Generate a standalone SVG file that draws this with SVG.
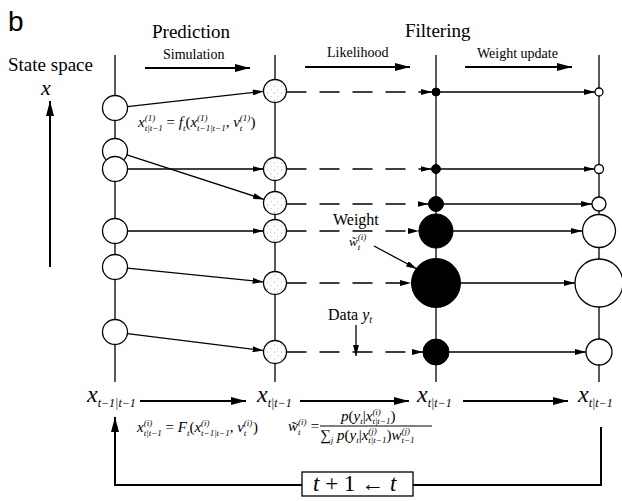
<svg xmlns="http://www.w3.org/2000/svg" width="622" height="501" viewBox="0 0 622 501">
<style>
.ln{stroke:#000;fill:none;stroke-width:1.3}
.th{stroke:#000;fill:none;stroke-width:2}
.dash{stroke:#000;fill:none;stroke-width:1.6;stroke-dasharray:20 13}
.t{font-family:"Liberation Serif","Times New Roman",serif;fill:#000}
.i{font-style:italic}
.open{fill:#fff;stroke:#000;stroke-width:1.3}
.dot{fill:url(#stip);stroke:#000;stroke-width:1.3}
.blk{fill:#000;stroke:#000;stroke-width:1}
.s{font-size:9px}
.u{font-style:normal}
</style>
<defs>
<marker id="ah" viewBox="0 0 11 6" refX="11" refY="3" markerWidth="11" markerHeight="6" markerUnits="userSpaceOnUse" orient="auto"><path d="M0,0L11,3L0,6z" fill="#000"/></marker>
<marker id="ahb" viewBox="0 0 15 8" refX="15" refY="4" markerWidth="15" markerHeight="8" markerUnits="userSpaceOnUse" orient="auto"><path d="M0,0L15,4L0,8z" fill="#000"/></marker>
<pattern id="stip" width="7" height="7" patternUnits="userSpaceOnUse"><rect width="7" height="7" fill="#fff"/><circle cx="1.5" cy="2" r="0.55" fill="#999"/><circle cx="5" cy="5.5" r="0.5" fill="#aaa"/><circle cx="4.5" cy="1" r="0.4" fill="#bbb"/></pattern>
</defs>
<rect width="622" height="501" fill="#fff"/>

<!-- titles -->
<text class="t" x="8" y="31" style="font-family:'Liberation Sans',Arial,sans-serif;font-size:28px">b</text>
<text class="t" x="152" y="38" font-size="19">Prediction</text>
<text class="t" x="405" y="37" font-size="19">Filtering</text>
<text class="t" x="163" y="59" font-size="14">Simulation</text>
<text class="t" x="327" y="57" font-size="14">Likelihood</text>
<text class="t" x="477" y="58" font-size="14">Weight update</text>
<text class="t" x="8" y="71" font-size="19">State space</text>
<text class="t i" x="41" y="95" font-size="22">x</text>

<g id="connectors">
  <!-- header arrows -->
  <line class="th" x1="145" y1="68" x2="250" y2="68" marker-end="url(#ahb)"/>
  <line class="th" x1="305" y1="67" x2="410" y2="67" marker-end="url(#ahb)"/>
  <line class="th" x1="465" y1="67" x2="572" y2="67" marker-end="url(#ahb)"/>
  <!-- state axis -->
  <line class="th" x1="50" y1="267" x2="50" y2="101" marker-end="url(#ahb)"/>
  <!-- vertical time lines -->
  <line class="ln" x1="115" y1="55" x2="115" y2="382" stroke-width="1.6"/>
  <line class="ln" x1="275" y1="55" x2="275" y2="382" stroke-width="2.2"/>
  <line class="ln" x1="436" y1="55" x2="436" y2="382" stroke-width="3"/>
  <line class="ln" x1="599" y1="55" x2="599" y2="382" stroke-width="1.6"/>
  <!-- simulation arrows -->
  <line class="ln" x1="127.4" y1="106.6" x2="263.6" y2="91.3" marker-end="url(#ah)"/>
  <line class="ln" x1="126.9" y1="154.9" x2="264.1" y2="199.4" marker-end="url(#ah)"/>
  <line class="ln" x1="127.5" y1="169" x2="263.5" y2="169" marker-end="url(#ah)"/>
  <line class="ln" x1="127.5" y1="231" x2="263.5" y2="231" marker-end="url(#ah)"/>
  <line class="ln" x1="127.4" y1="268.2" x2="263.6" y2="281.9" marker-end="url(#ah)"/>
  <line class="ln" x1="127.4" y1="333.6" x2="263.6" y2="350.6" marker-end="url(#ah)"/>
  <!-- likelihood dashed arrows -->
  <line class="dash" x1="286.5" y1="92" x2="432" y2="92" marker-end="url(#ah)"/>
  <line class="dash" x1="286.5" y1="169" x2="431.5" y2="169" marker-end="url(#ah)"/>
  <line class="dash" x1="286.5" y1="204" x2="428.5" y2="204" marker-end="url(#ah)"/>
  <line class="dash" x1="286.5" y1="231" x2="419" y2="231" marker-end="url(#ah)"/>
  <line class="dash" x1="286.5" y1="283" x2="411" y2="283" marker-end="url(#ah)"/>
  <line class="dash" x1="286.5" y1="352" x2="423" y2="352" marker-end="url(#ah)"/>
  <!-- weight update arrows -->
  <line class="ln" x1="440" y1="92" x2="595" y2="92" marker-end="url(#ah)"/>
  <line class="ln" x1="440.5" y1="169" x2="594.5" y2="169" marker-end="url(#ah)"/>
  <line class="ln" x1="443.5" y1="204" x2="592" y2="204" marker-end="url(#ah)"/>
  <line class="ln" x1="453" y1="231" x2="582" y2="231" marker-end="url(#ah)"/>
  <line class="ln" x1="460" y1="283" x2="575" y2="283" marker-end="url(#ah)"/>
  <line class="ln" x1="449" y1="352" x2="586" y2="352" marker-end="url(#ah)"/>
  <!-- annotations -->
  <line class="ln" x1="374" y1="246" x2="417" y2="269" marker-end="url(#ah)"/>
  <line class="ln" x1="356" y1="325" x2="356" y2="356" marker-end="url(#ah)"/>
  <!-- bottom flow arrows -->
  <line class="th" x1="140" y1="401" x2="246" y2="401" marker-end="url(#ahb)"/>
  <line class="th" x1="300" y1="401" x2="409" y2="401" marker-end="url(#ahb)"/>
  <line class="th" x1="463" y1="401" x2="568" y2="401" marker-end="url(#ahb)"/>
  <!-- feedback loop -->
  <polyline class="th" points="601,427 601,485 413,485"/>
  <polyline class="th" points="302,485 115,485 115,417" marker-end="url(#ahb)"/>
</g>

<!-- particles at t-1|t-1 -->
<g id="prev-1"><circle class="open" cx="115" cy="108" r="12.5"/></g>
<g id="prev-2"><circle class="open" cx="115" cy="151" r="12.5"/></g>
<g id="prev-3"><circle class="open" cx="115" cy="169" r="12.5"/></g>
<g id="prev-4"><circle class="open" cx="115" cy="231" r="12.5"/></g>
<g id="prev-5"><circle class="open" cx="115" cy="267" r="12.5"/></g>
<g id="prev-6"><circle class="open" cx="115" cy="332" r="12.5"/></g>

<!-- predicted particles -->
<g id="pred-1"><circle class="dot" cx="275" cy="91" r="11.5"/></g>
<g id="pred-2"><circle class="dot" cx="275" cy="169" r="11.5"/></g>
<g id="pred-3"><circle class="dot" cx="275" cy="203" r="11.5"/></g>
<g id="pred-4"><circle class="dot" cx="275" cy="231" r="11.5"/></g>
<g id="pred-5"><circle class="dot" cx="275" cy="283" r="11.5"/></g>
<g id="pred-6"><circle class="dot" cx="275" cy="352" r="11.5"/></g>

<!-- weighted particles -->
<g id="filt-1"><circle class="blk" cx="436" cy="92" r="4"/></g>
<g id="filt-2"><circle class="blk" cx="436" cy="169" r="4.5"/></g>
<g id="filt-3"><circle class="blk" cx="436" cy="204" r="7.5"/></g>
<g id="filt-4"><circle class="blk" cx="436" cy="231" r="17"/></g>
<g id="filt-5"><circle class="blk" cx="436" cy="283" r="24.5"/></g>
<g id="filt-6"><circle class="blk" cx="436" cy="352" r="13"/></g>

<!-- updated particles -->
<g id="upd-1"><circle class="open" cx="599" cy="92" r="4"/></g>
<g id="upd-2"><circle class="open" cx="599" cy="169" r="4.5"/></g>
<g id="upd-3"><circle class="open" cx="599" cy="204" r="7"/></g>
<g id="upd-4"><circle class="open" cx="599" cy="231" r="16.5"/></g>
<g id="upd-5"><circle class="open" cx="599" cy="283" r="24"/></g>
<g id="upd-6"><circle class="open" cx="599" cy="352" r="13"/></g>

<!-- formula near first simulation arrow -->
<text class="t i" x="138" y="127" font-size="15">x<tspan class="s" dy="-6.5">(1)</tspan><tspan class="s" dx="-10.5" dy="10">t|t−1</tspan><tspan class="u" dy="-3.5"> = </tspan>f<tspan class="s" dy="3.5">t</tspan><tspan class="u" dy="-3.5">(</tspan>x<tspan class="s" dy="-6.5">(1)</tspan><tspan class="s" dx="-10.5" dy="10">t−1|t−1</tspan><tspan class="u" dy="-3.5">, </tspan>v<tspan class="s" dy="-6.5">(1)</tspan><tspan class="s" dx="-10.5" dy="10">t</tspan><tspan class="u" dx="8" dy="-3.5">)</tspan></text>

<!-- weight & data annotations -->
<g id="weight-label">
<text class="t" x="333" y="225" font-size="16">Weight</text>
<text class="t i" x="349" y="246" font-size="13">w̃<tspan class="s" dy="-6.5">(i)</tspan><tspan class="s" dx="-8.5" dy="10">t</tspan></text>
</g>
<g id="data-label">
<text class="t" x="328" y="320" font-size="16">Data <tspan class="i">y</tspan><tspan class="i" font-size="10" dy="3">t</tspan></text>
</g>

<!-- bottom state labels -->
<g id="label-prev"><text class="t i" x="87" y="402" font-size="24">x<tspan font-size="12" dy="5">t−1|t−1</tspan></text></g>
<g id="label-pred"><text class="t i" x="257" y="402" font-size="24">x<tspan font-size="12" dy="5">t|t−1</tspan></text></g>
<g id="label-filt"><text class="t i" x="417" y="402" font-size="24">x<tspan font-size="12" dy="5">t|t−1</tspan></text></g>
<g id="label-upd"><text class="t i" x="578" y="402" font-size="24">x<tspan font-size="12" dy="5">t|t−1</tspan></text></g>

<!-- bottom formulas -->
<text class="t i" x="137" y="432" font-size="15">x<tspan class="s" dy="-6.5">(i)</tspan><tspan class="s" dx="-8.5" dy="10">t|t−1</tspan><tspan class="u" dy="-3.5"> = </tspan>F<tspan class="s" dy="3.5">t</tspan><tspan class="u" dy="-3.5">(</tspan>x<tspan class="s" dy="-6.5">(i)</tspan><tspan class="s" dx="-8.5" dy="10">t−1|t−1</tspan><tspan class="u" dy="-3.5">, </tspan>v<tspan class="s" dy="-6.5">(i)</tspan><tspan class="s" dx="-8.5" dy="10">t</tspan><tspan class="u" dx="6.5" dy="-3.5">)</tspan></text>

<text class="t i" x="288" y="431" font-size="15">w̃<tspan class="s" dy="-6.5">(i)</tspan><tspan class="s" dx="-8.5" dy="10">t</tspan><tspan class="u" dx="6.5" dy="-3.5"> =</tspan></text>
<line x1="320" y1="426" x2="432" y2="426" stroke="#000" stroke-width="1"/>
<text class="t i" x="341" y="421" font-size="15">p<tspan class="u">(</tspan>y<tspan class="s" dy="3">t</tspan><tspan class="u" dy="-3">|</tspan>x<tspan class="s" dy="-6">(i)</tspan><tspan class="s" dx="-8.5" dy="9">t|t−1</tspan><tspan class="u" dy="-3">)</tspan></text>
<text class="t i" x="320" y="440" font-size="15"><tspan class="u">∑</tspan><tspan class="s" dy="3">j</tspan><tspan dy="-3"> p</tspan><tspan class="u">(</tspan>y<tspan class="s" dy="3">t</tspan><tspan class="u" dy="-3">|</tspan>x<tspan class="s" dy="-6">(j)</tspan><tspan class="s" dx="-8.5" dy="9">t|t−1</tspan><tspan class="u" dy="-3">)</tspan>w<tspan class="s" dy="-6">(j)</tspan><tspan class="s" dx="-8.5" dy="9">t−1</tspan></text>

<!-- time step box -->
<g id="time-step">
<rect x="302" y="472" width="111" height="24" fill="#fff" stroke="#000" stroke-width="1.3"/>
<text class="t" x="313" y="491" font-size="23"><tspan class="i">t</tspan> + 1 ← <tspan class="i">t</tspan></text>
</g>
</svg>
